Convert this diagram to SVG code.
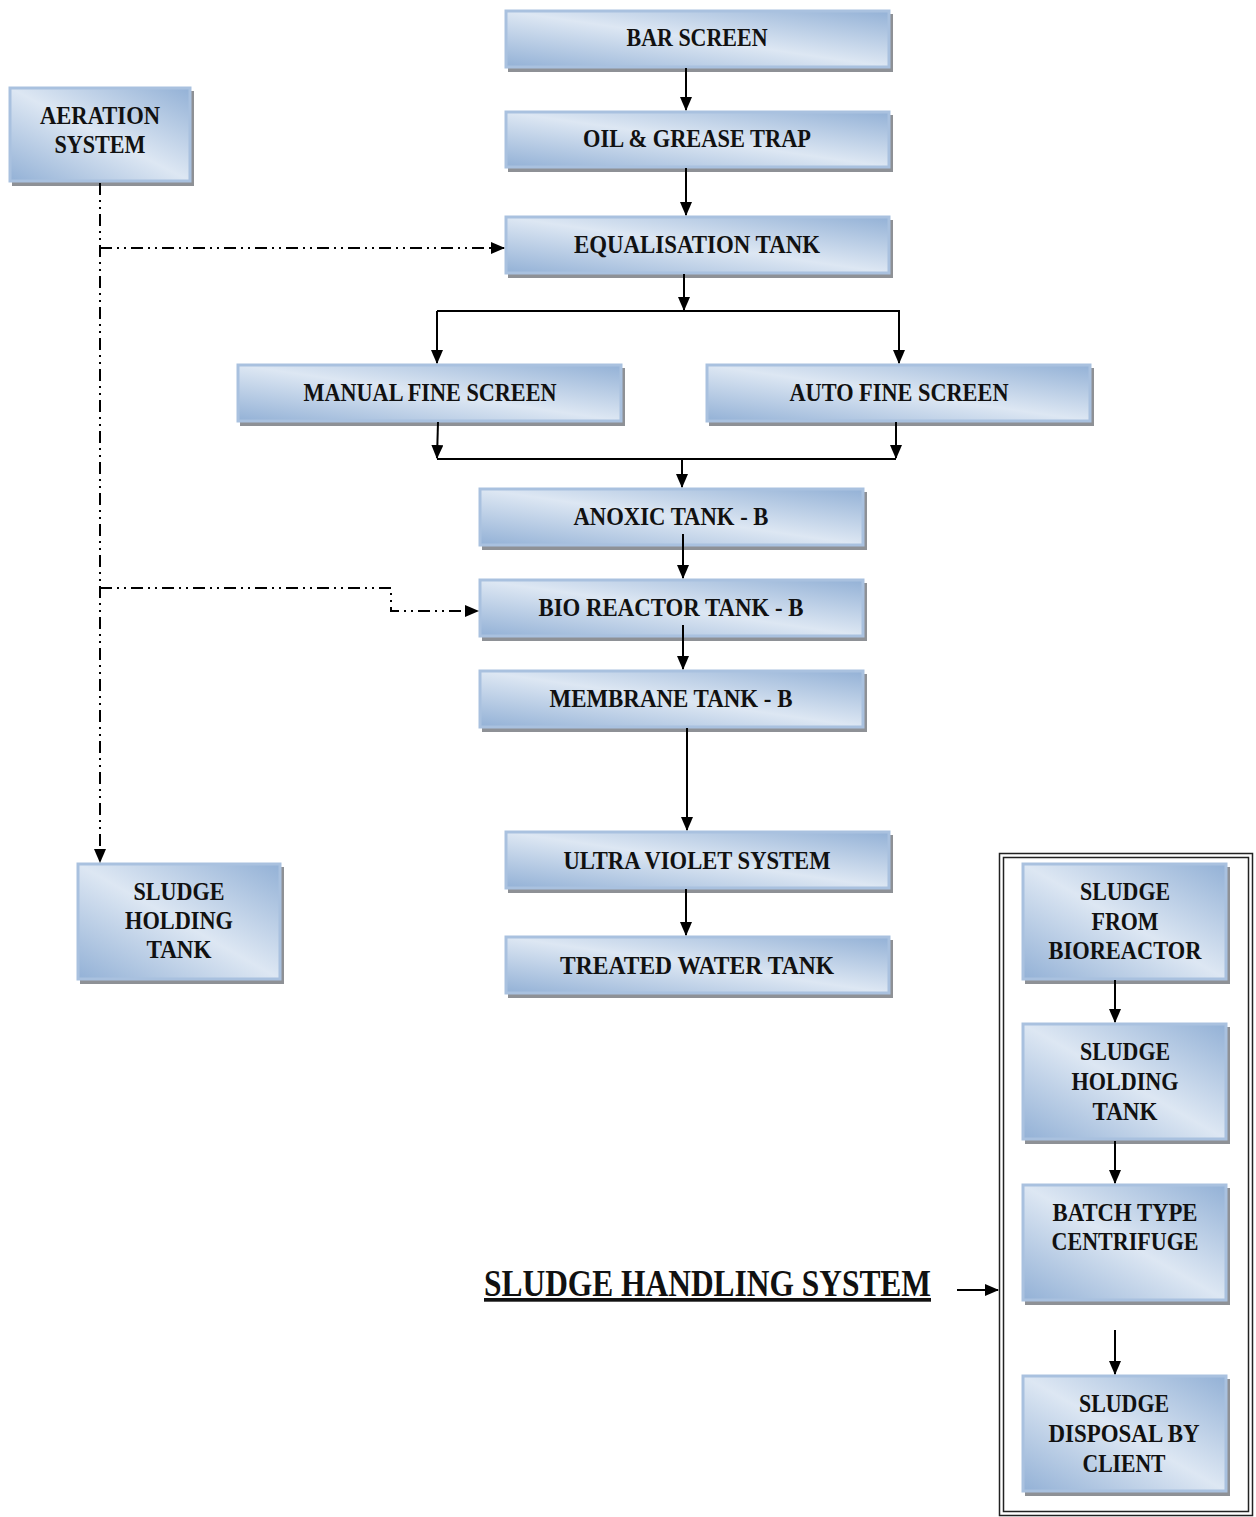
<svg xmlns="http://www.w3.org/2000/svg" width="1256" height="1517" viewBox="0 0 1256 1517">
<defs>
<linearGradient id="g" x1="1" y1="0" x2="0" y2="1">
<stop offset="0" stop-color="#93b1d6"/>
<stop offset="0.5" stop-color="#dde7f3"/>
<stop offset="1" stop-color="#93b1d6"/>
</linearGradient>
<marker id="ah" markerUnits="userSpaceOnUse" markerWidth="14" markerHeight="12" refX="13" refY="6" orient="auto">
<path d="M0,0 L14,6 L0,12 Z" fill="#000"/>
</marker>
</defs>
<style>
.sh{fill:#8e9196;}
.bx{fill:url(#g);stroke:#a9c1df;stroke-width:3;}
.t{font-family:"Liberation Serif","DejaVu Serif",serif;font-weight:bold;font-size:25px;fill:#111;text-anchor:middle;}
.ln{fill:none;stroke:#000;stroke-width:2;}
.dd{fill:none;stroke:#000;stroke-width:2;stroke-dasharray:12 5 2 5 2 5;}
.fr{fill:none;stroke:#222;stroke-width:1.5;}
.title{font-family:"Liberation Serif","DejaVu Serif",serif;font-weight:bold;font-size:37px;fill:#111;text-decoration:underline;}
</style>
<rect width="1256" height="1517" fill="#fff"/>

<g id="frame">
<rect class="fr" x="999.5" y="853.5" width="253" height="662"/>
<rect class="fr" x="1003.5" y="857.5" width="245" height="654"/>
</g>

<g id="bar-screen"><rect class="sh" x="508" y="14" width="385" height="58"/><rect class="bx" x="506" y="11" width="383" height="56"/><text class="t" x="697" y="46" textLength="141" lengthAdjust="spacingAndGlyphs">BAR SCREEN</text></g>
<g id="oil-grease"><rect class="sh" x="508" y="115" width="385" height="57"/><rect class="bx" x="506" y="112" width="383" height="55"/><text class="t" x="697" y="147" textLength="228" lengthAdjust="spacingAndGlyphs">OIL &amp; GREASE TRAP</text></g>
<g id="equalisation"><rect class="sh" x="508" y="220" width="385" height="58"/><rect class="bx" x="506" y="217" width="383" height="56"/><text class="t" x="697" y="253" textLength="246" lengthAdjust="spacingAndGlyphs">EQUALISATION TANK</text></g>
<g id="manual-fine"><rect class="sh" x="240" y="368" width="385" height="58"/><rect class="bx" x="238" y="365" width="383" height="56"/><text class="t" x="430" y="401" textLength="253" lengthAdjust="spacingAndGlyphs">MANUAL FINE SCREEN</text></g>
<g id="auto-fine"><rect class="sh" x="709" y="368" width="385" height="58"/><rect class="bx" x="707" y="365" width="383" height="56"/><text class="t" x="899" y="401" textLength="219" lengthAdjust="spacingAndGlyphs">AUTO FINE SCREEN</text></g>
<g id="anoxic"><rect class="sh" x="482" y="492" width="385" height="58"/><rect class="bx" x="480" y="489" width="383" height="56"/><text class="t" x="671" y="525" textLength="195" lengthAdjust="spacingAndGlyphs">ANOXIC TANK - B</text></g>
<g id="bioreactor"><rect class="sh" x="482" y="583" width="385" height="58"/><rect class="bx" x="480" y="580" width="383" height="56"/><text class="t" x="671" y="616" textLength="265" lengthAdjust="spacingAndGlyphs">BIO REACTOR TANK - B</text></g>
<g id="membrane"><rect class="sh" x="482" y="674" width="385" height="58"/><rect class="bx" x="480" y="671" width="383" height="56"/><text class="t" x="671" y="707" textLength="243" lengthAdjust="spacingAndGlyphs">MEMBRANE TANK - B</text></g>
<g id="ultra-violet"><rect class="sh" x="508" y="835" width="385" height="58"/><rect class="bx" x="506" y="832" width="383" height="56"/><text class="t" x="697" y="869" textLength="267" lengthAdjust="spacingAndGlyphs">ULTRA VIOLET SYSTEM</text></g>
<g id="treated-water"><rect class="sh" x="508" y="940" width="385" height="58"/><rect class="bx" x="506" y="937" width="383" height="56"/><text class="t" x="697" y="974" textLength="274" lengthAdjust="spacingAndGlyphs">TREATED WATER TANK</text></g>
<g id="aeration"><rect class="sh" x="12" y="91" width="182" height="95"/><rect class="bx" x="10" y="88" width="180" height="93"/><text class="t" x="100" y="124" textLength="120" lengthAdjust="spacingAndGlyphs">AERATION</text><text class="t" x="100" y="153" textLength="91" lengthAdjust="spacingAndGlyphs">SYSTEM</text></g>
<g id="sludge-holding-left"><rect class="sh" x="80" y="867" width="204" height="117"/><rect class="bx" x="78" y="864" width="202" height="115"/><text class="t" x="179" y="900" textLength="91" lengthAdjust="spacingAndGlyphs">SLUDGE</text><text class="t" x="179" y="929" textLength="108" lengthAdjust="spacingAndGlyphs">HOLDING</text><text class="t" x="179" y="958" textLength="65" lengthAdjust="spacingAndGlyphs">TANK</text></g>
<g id="sludge-from-bioreactor"><rect class="sh" x="1025" y="867" width="205" height="117"/><rect class="bx" x="1023" y="864" width="203" height="115"/><text class="t" x="1125" y="900" textLength="90" lengthAdjust="spacingAndGlyphs">SLUDGE</text><text class="t" x="1125" y="930" textLength="67" lengthAdjust="spacingAndGlyphs">FROM</text><text class="t" x="1125" y="959" textLength="153" lengthAdjust="spacingAndGlyphs">BIOREACTOR</text></g>
<g id="sludge-holding-right"><rect class="sh" x="1025" y="1027" width="205" height="117"/><rect class="bx" x="1023" y="1024" width="203" height="115"/><text class="t" x="1125" y="1060" textLength="90" lengthAdjust="spacingAndGlyphs">SLUDGE</text><text class="t" x="1125" y="1090" textLength="107" lengthAdjust="spacingAndGlyphs">HOLDING</text><text class="t" x="1125" y="1120" textLength="65" lengthAdjust="spacingAndGlyphs">TANK</text></g>
<g id="centrifuge"><rect class="sh" x="1025" y="1188" width="205" height="117"/><rect class="bx" x="1023" y="1185" width="203" height="115"/><text class="t" x="1125" y="1221" textLength="145" lengthAdjust="spacingAndGlyphs">BATCH TYPE</text><text class="t" x="1125" y="1250" textLength="147" lengthAdjust="spacingAndGlyphs">CENTRIFUGE</text></g>
<g id="sludge-disposal"><rect class="sh" x="1025" y="1379" width="205" height="117"/><rect class="bx" x="1023" y="1376" width="203" height="115"/><text class="t" x="1124" y="1412" textLength="90" lengthAdjust="spacingAndGlyphs">SLUDGE</text><text class="t" x="1124" y="1442" textLength="151" lengthAdjust="spacingAndGlyphs">DISPOSAL BY</text><text class="t" x="1124" y="1472" textLength="83" lengthAdjust="spacingAndGlyphs">CLIENT</text></g>

<g id="title"><text class="title" x="484" y="1296" textLength="447" lengthAdjust="spacingAndGlyphs">SLUDGE HANDLING SYSTEM</text></g>

<g id="connectors">
<path class="ln" d="M686,68 V110" marker-end="url(#ah)"/>
<path class="ln" d="M686,168 V215" marker-end="url(#ah)"/>
<path class="ln" d="M684,274 V310" marker-end="url(#ah)"/>
<path class="ln" d="M437,311 H899 V363" marker-end="url(#ah)"/>
<path class="ln" d="M437,311 V363" marker-end="url(#ah)"/>
<path class="ln" d="M438,422 L437,458" marker-end="url(#ah)"/>
<path class="ln" d="M896,422 V458" marker-end="url(#ah)"/>
<path class="ln" d="M437,459 H896"/>
<path class="ln" d="M682,459 V487" marker-end="url(#ah)"/>
<path class="ln" d="M683,534 V578" marker-end="url(#ah)"/>
<path class="ln" d="M683,625 V669" marker-end="url(#ah)"/>
<path class="ln" d="M687,728 V830" marker-end="url(#ah)"/>
<path class="ln" d="M686,889 V935" marker-end="url(#ah)"/>
<path class="ln" d="M1115,980 V1022" marker-end="url(#ah)"/>
<path class="ln" d="M1115,1141 V1183" marker-end="url(#ah)"/>
<path class="ln" d="M1115,1330 V1374" marker-end="url(#ah)"/>
<path class="ln" d="M957,1290 H998" marker-end="url(#ah)"/>
<path class="dd" d="M100,183 V862" marker-end="url(#ah)"/>
<path class="dd" d="M100,248 H504" marker-end="url(#ah)"/>
<path class="dd" d="M100,588 H391 V611 H478" marker-end="url(#ah)"/>
</g>
</svg>
